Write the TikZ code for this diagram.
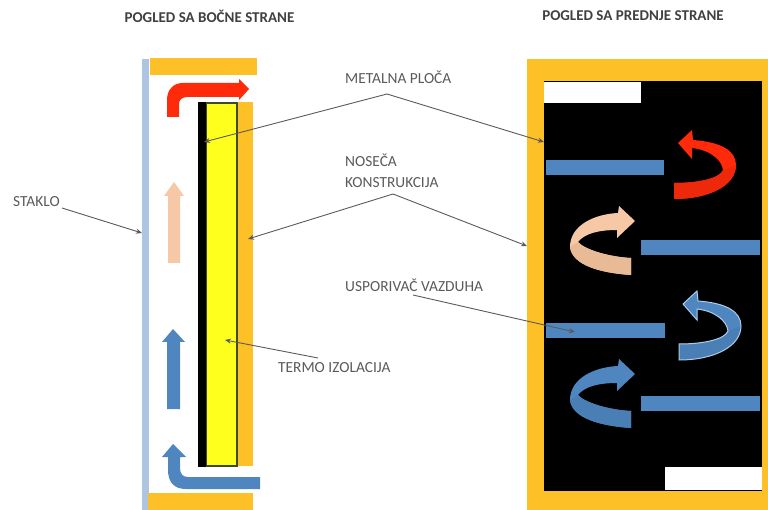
\documentclass[tikz,border=0pt]{standalone}
\usepackage{fontspec}
\usetikzlibrary{arrows.meta}
\setmainfont{Carlito}
\definecolor{frameor}{HTML}{FDC026}
\definecolor{glassb}{HTML}{AFC4E0}
\definecolor{flowblue}{HTML}{4F86C0}
\definecolor{flowbluedk}{HTML}{4A7FB6}
\definecolor{edgeblue}{HTML}{A8CDE8}
\definecolor{peach}{HTML}{F6C8A6}
\definecolor{peachdk}{HTML}{E8BA96}
\definecolor{hotred}{HTML}{FF2A0A}
\definecolor{hotreddk}{HTML}{EE280A}
\definecolor{insul}{HTML}{FFFF1E}
\definecolor{insuledge}{HTML}{3F4A2A}
\definecolor{labelgr}{HTML}{5A5A5A}
\begin{document}
\begin{tikzpicture}[x=1pt,y=-1pt,
  title/.style={font=\bfseries\fontsize{15}{17}\selectfont,text=black!75,inner sep=0pt},
  lab/.style={font=\fontsize{15.4}{21}\selectfont,text=labelgr,inner sep=0pt,align=left},
  lead/.style={draw=labelgr,line width=0.9pt,-{Stealth[length=6pt,width=5pt]}}]
\useasboundingbox (0,0) rectangle (768,510);
% side view
\fill[glassb] (142,59) rectangle (149,510);
\fill[frameor] (150,58) rectangle (257,75);
\fill[frameor] (238,102) rectangle (253,466);
\fill[frameor] (148,493) rectangle (253,510);
\fill[insul,draw=insuledge,line width=1.2pt] (206,103) rectangle (237,466);
\fill[black] (198,102) rectangle (206,467);
% side arrows
\fill[hotred] (167,117) -- (167,100) .. controls (167,90) and (173,83) .. (183,83) -- (239,83) -- (239,79) -- (249,89) -- (239,100) -- (239,97) -- (187,97) .. controls (182,97) and (179,100) .. (179,104) -- (179,117) -- cycle;
\fill[peach] (168,263) -- (168,196) -- (164,196) -- (174,182) -- (184,196) -- (180,196) -- (180,263) -- cycle;
\fill[flowblue] (167,409) -- (167,342) -- (162,342) -- (173,329) -- (185,342) -- (180,342) -- (180,409) -- cycle;
\fill[flowblue] (260,489) -- (186,489) .. controls (174,489) and (168,482) .. (168,470) -- (168,457) -- (162,457) -- (173,444) -- (186,457) -- (180,457) -- (180,468) .. controls (180,474) and (183,477) .. (188,477) -- (260,477) -- cycle;
% front view
\fill[frameor] (527,59) rectangle (768,510);
\fill[black] (544,81) rectangle (762,491);
\fill[white] (544,82) rectangle (641,103);
\fill[white] (665,467) rectangle (762,490);
\fill[flowblue] (546,160) rectangle (664,175);
\fill[flowblue] (641,240) rectangle (760,255);
\fill[flowblue] (546,323) rectangle (665,338);
\fill[flowblue] (641,396) rectangle (760,411);
% curved arrows opening left
\fill[hotred] (678,143) -- (692,130) -- (693,140) .. controls (720,142) and (736,150) .. (736,165) .. controls (736,185) and (710,199) .. (674,199) -- (674,183) .. controls (700,183) and (720,178) .. (723,170) .. controls (722,160) and (710,150) .. (692,148) -- (692,159) -- cycle;
\fill[hotreddk] (736,165) .. controls (736,185) and (710,199) .. (674,199) -- (674,183) .. controls (700,183) and (720,178) .. (723,170) -- cycle;
\begin{scope}[shift={(5,161)}]
\fill[flowblue] (678,143) -- (692,130) -- (693,140) .. controls (720,142) and (736,150) .. (736,165) .. controls (736,185) and (710,199) .. (674,199) -- (674,183) .. controls (700,183) and (720,178) .. (723,170) .. controls (722,160) and (710,150) .. (692,148) -- (692,159) -- cycle;
\fill[flowbluedk] (736,165) .. controls (736,185) and (710,199) .. (674,199) -- (674,183) .. controls (700,183) and (720,178) .. (723,170) -- cycle;
\draw[edgeblue,line width=1pt] (678,143) -- (692,130) -- (693,140) .. controls (720,142) and (736,150) .. (736,165) .. controls (736,185) and (710,199) .. (674,199) -- (674,183) .. controls (700,183) and (720,178) .. (723,170) .. controls (722,160) and (710,150) .. (692,148) -- (692,159) -- cycle;
\end{scope}
% curved arrows opening right
\fill[peach] (635,221) -- (619,206) -- (618,213) .. controls (595,214) and (570,225) .. (570,247) .. controls (572,265) and (600,273) .. (631,275) -- (631,258) .. controls (610,257) and (585,250) .. (578,242) .. controls (585,233) and (600,230) .. (617,230) -- (617,238) -- cycle;
\fill[peachdk] (570,247) .. controls (572,265) and (600,273) .. (631,275) -- (631,258) .. controls (610,257) and (585,250) .. (578,242) -- cycle;
\begin{scope}[shift={(0,153)}]
\fill[flowblue] (635,221) -- (619,206) -- (618,213) .. controls (595,214) and (570,225) .. (570,247) .. controls (572,265) and (600,273) .. (631,275) -- (631,258) .. controls (610,257) and (585,250) .. (578,242) .. controls (585,233) and (600,230) .. (617,230) -- (617,238) -- cycle;
\fill[flowbluedk] (570,247) .. controls (572,265) and (600,273) .. (631,275) -- (631,258) .. controls (610,257) and (585,250) .. (578,242) -- cycle;
\end{scope}
% titles
\node[title] (tleft) at (209.5,16) {POGLED SA BOČNE STRANE};
\node[title] (tright) at (633,16) {POGLED SA PREDNJE STRANE};
% labels
\node[lab,anchor=west] (metal) at (345,77) {METALNA PLOČA};
\node[lab,anchor=west] (nosec) at (345,170.5) {NOSEČA\\KONSTRUKCIJA};
\node[lab,anchor=west] (stak) at (13,202) {STAKLO};
\node[lab,anchor=west] (uspor) at (345,285) {USPORIVAČ VAZDUHA};
\node[lab,anchor=west] (termo) at (278,368) {TERMO IZOLACIJA};
% leader ends
\coordinate (metalapex) at (387,94);
\coordinate (metalL) at (204,142);
\coordinate (metalR) at (544,142);
\coordinate (nosapex) at (393,194);
\coordinate (nosL) at (248,239);
\coordinate (nosR) at (527,246);
\coordinate (stakS) at (62,208);
\coordinate (stakE) at (142,233);
\coordinate (usS) at (413,295);
\coordinate (usE) at (575,332);
\coordinate (teS) at (318,358);
\coordinate (teE) at (225,340);
\draw[lead] (metalapex) -- (metalL);
\draw[lead] (metalapex) -- (metalR);
\draw[lead] (nosapex) -- (nosL);
\draw[lead] (nosapex) -- (nosR);
\draw[lead] (stakS) -- (stakE);
\draw[lead] (usS) -- (usE);
\draw[lead] (teS) -- (teE);
\end{tikzpicture}
\end{document}
